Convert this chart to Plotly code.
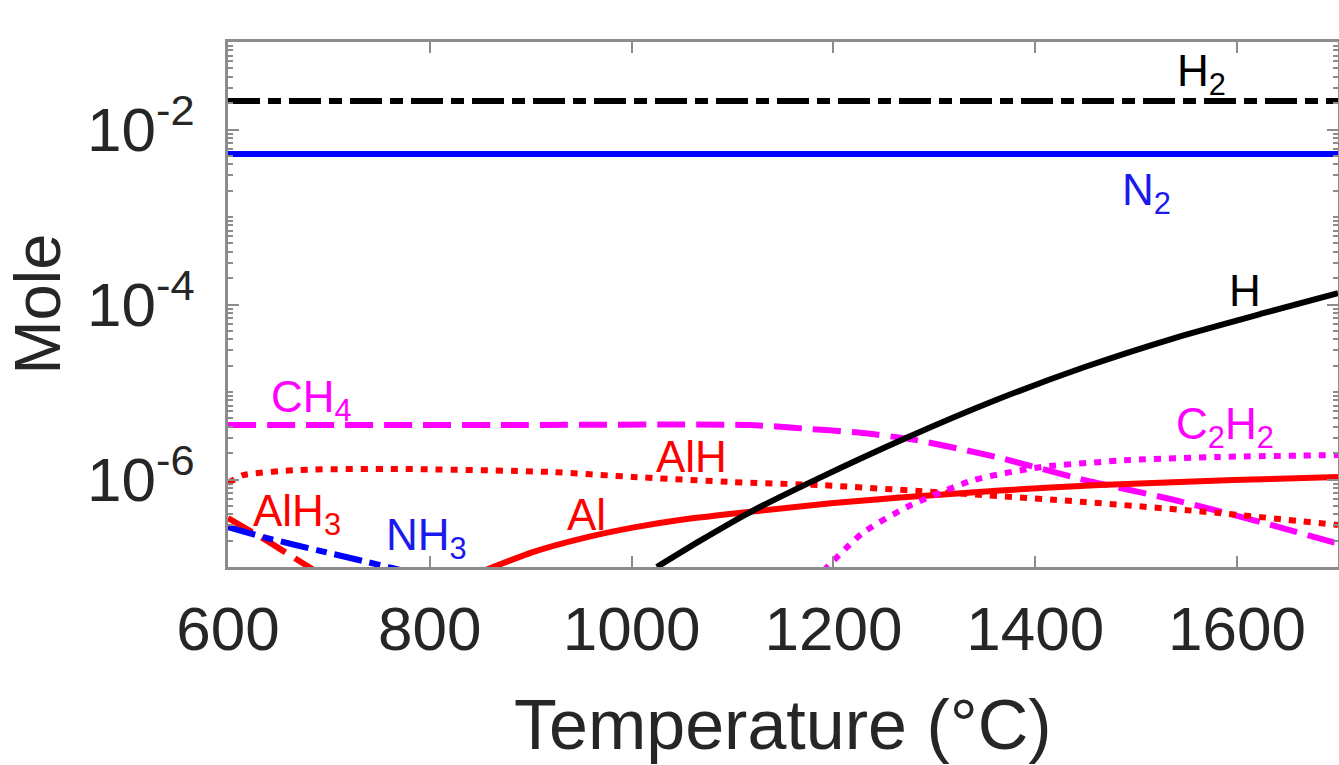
import math
import plotly.graph_objects as go

# ---------------- data ----------------
T_H2 = [600, 1700]
H2 = [0.0212, 0.0212]

T_N2 = [600, 1700]
N2 = [5.25e-3, 5.25e-3]

T_H = [1025, 1068, 1118, 1181, 1273, 1361, 1449, 1538, 1627, 1700]
H = [1.0e-7, 2.0e-7, 4.27e-7, 9.77e-7, 3.02e-6, 8.1e-6, 1.93e-5, 4.14e-5, 8.0e-5, 1.35e-4]

T_CH4 = [600, 870, 1117, 1163, 1229, 1282, 1361, 1449, 1538, 1627, 1700]
CH4 = [4.2e-6, 4.2e-6, 4.2e-6, 3.88e-6, 3.4e-6, 2.82e-6, 1.81e-6, 9.86e-7,
       5.83e-7, 3.18e-7, 1.85e-7]

T_AlH = [600, 615, 671, 770, 919, 1001, 1100, 1185, 1317, 1449, 1582, 1700]
AlH = [9.1e-7, 1.12e-6, 1.285e-6, 1.32e-6, 1.22e-6, 1.07e-6, 9.35e-7, 8.65e-7,
       7.0e-7, 5.53e-7, 4.14e-7, 3.02e-7]

T_Al = [855, 902, 952, 1001, 1051, 1120, 1200, 1266, 1365, 1464, 1596, 1700]
Al = [9.2e-8, 1.48e-7, 2.14e-7, 2.82e-7, 3.49e-7, 4.31e-7, 5.38e-7, 6.22e-7,
      7.48e-7, 8.65e-7, 9.86e-7, 1.07e-6]

T_C2H2 = [1190, 1229, 1273, 1339, 1406, 1494, 1582, 1700]
C2H2 = [9.0e-8, 2.45e-7, 4.85e-7, 9.86e-7, 1.39e-6, 1.67e-6, 1.81e-6, 1.9e-6]

T_AlH3 = [600, 640, 690]
AlH3 = [3.63e-7, 1.95e-7, 8.5e-8]

T_NH3 = [600, 639, 688, 738, 775]
NH3 = [2.86e-7, 2.14e-7, 1.56e-7, 1.14e-7, 9.0e-8]

x_ticks = [600, 800, 1000, 1200, 1400, 1600]
y_ticks = [1e-2, 1e-4, 1e-6]
y_ticktext = ["10<sup>-2</sup>", "10<sup>-4</sup>", "10<sup>-6</sup>"]
y_minor = [m * 10.0 ** e for e in range(-7, -1) for m in range(1, 10)
           if not (m == 1 and e in (-2, -4, -6))]

# labels: (text, T, value, color)
labels = [
    ("H<sub>2</sub>", 1565, 4.3e-2, "black"),
    ("N<sub>2</sub>", 1510, 1.9e-3, "#1a1aee"),
    ("H", 1608, 1.45e-4, "black"),
    ("CH<sub>4</sub>", 683, 8.0e-6, "#ff00ff"),
    ("C<sub>2</sub>H<sub>2</sub>", 1588, 4.0e-6, "#ff00ff"),
    ("AlH", 1059, 1.85e-6, "#ff0000"),
    ("Al", 955, 4.0e-7, "#ff0000"),
    ("AlH<sub>3</sub>", 668, 4.0e-7, "#ff0000"),
    ("NH<sub>3</sub>", 797, 2.17e-7, "#1a1aee"),
]

FONT = "Liberation Sans, Arial, Helvetica, sans-serif"
W = 6

fig = go.Figure()
fig.add_trace(go.Scatter(x=T_H2, y=H2, mode="lines",
                         line=dict(color="black", width=W, dash="32px,8px,13px,8px")))
fig.add_trace(go.Scatter(x=T_N2, y=N2, mode="lines",
                         line=dict(color="#0000ff", width=W)))
fig.add_trace(go.Scatter(x=T_CH4, y=CH4, mode="lines",
                         line=dict(color="#ff00ff", width=W, dash="28px,11px", shape="spline", smoothing=0.6)))
fig.add_trace(go.Scatter(x=T_AlH, y=AlH, mode="lines",
                         line=dict(color="#ff0000", width=W, dash="7px,8px", shape="spline", smoothing=0.6)))
fig.add_trace(go.Scatter(x=T_Al, y=Al, mode="lines",
                         line=dict(color="#ff0000", width=W, shape="spline", smoothing=0.6)))
fig.add_trace(go.Scatter(x=T_C2H2, y=C2H2, mode="lines",
                         line=dict(color="#ff00ff", width=W, dash="7px,8px", shape="spline", smoothing=0.6)))
fig.add_trace(go.Scatter(x=T_H, y=H, mode="lines",
                         line=dict(color="black", width=W, shape="spline", smoothing=0.6)))
fig.add_trace(go.Scatter(x=T_AlH3, y=AlH3, mode="lines",
                         line=dict(color="#ff0000", width=W, dash="28px,11px")))
fig.add_trace(go.Scatter(x=T_NH3, y=NH3, mode="lines",
                         line=dict(color="#0000ff", width=W, dash="28px,8px,11px,8px", shape="spline", smoothing=0.6)))

for txt, tx, ty, col in labels:
    fig.add_annotation(x=tx, y=math.log10(ty), text=txt, showarrow=False,
                       font=dict(family=FONT, size=44, color=col),
                       xanchor="center", yanchor="middle")

# axis titles
fig.add_annotation(x=0.5, y=-0.222, xref="paper", yref="paper", yanchor="top",
                   text="Temperature (\u00b0C)", showarrow=False,
                   font=dict(family=FONT, size=70, color="#262626"))
fig.add_annotation(x=-0.172, y=0.5, xref="paper", yref="paper", xanchor="center",
                   text="Mole", textangle=-90, showarrow=False,
                   font=dict(family=FONT, size=65, color="#262626"))

axis_common = dict(showline=True, linecolor="#8c8c8c", linewidth=3, mirror="ticks",
                   ticks="inside", tickcolor="#8c8c8c", tickwidth=2, ticklen=11,
                   showgrid=False, zeroline=False,
                   tickfont=dict(family=FONT, size=62, color="#262626"))

fig.update_layout(
    width=1339, height=765,
    margin=dict(l=228, r=1, t=42, b=198, autoexpand=False),
    paper_bgcolor="white", plot_bgcolor="white",
    showlegend=False,
    xaxis=dict(range=[600, 1700], tickmode="array", tickvals=x_ticks,
               ticklabelstandoff=6, **axis_common),
    yaxis=dict(type="log", range=[-7, -1], tickmode="array", tickvals=y_ticks,
               ticktext=y_ticktext, ticklabelstandoff=18,
               minor=dict(tickmode="array", tickvals=y_minor, ticks="inside",
                          ticklen=5, tickwidth=1.5, tickcolor="#8c8c8c", showgrid=False),
               **axis_common),
)

fig.write_html("out.html")
